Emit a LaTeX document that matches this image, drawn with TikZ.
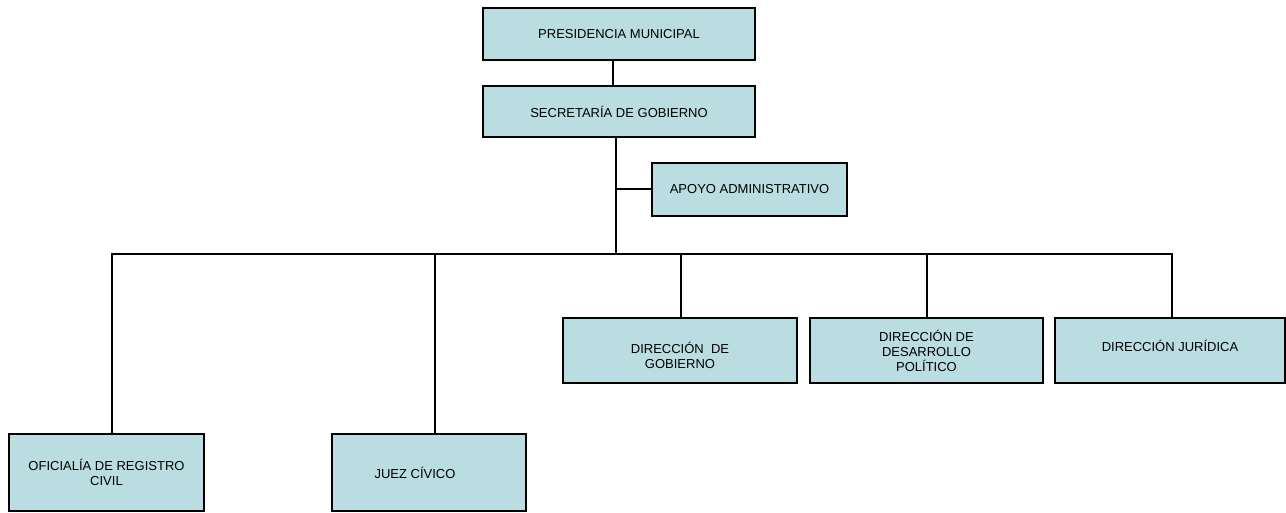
\documentclass[tikz,border=0pt]{standalone}
\usepackage{fontspec}
\setmainfont{Liberation Sans}
\definecolor{cajaazul}{RGB}{185,221,225}
\begin{document}
\begin{tikzpicture}[x=1pt,y=-1pt,
    caja/.style={draw=black, line width=1.3pt, fill=cajaazul, align=center,
      inner sep=2pt, font=\fontsize{13}{15}\selectfont},
    linea/.style={draw=black, line width=1.1pt}]
      \useasboundingbox (0,0) rectangle (1286,512);
      \node[caja, minimum width=272, minimum height=52] (pres) at (619,34) {PRESIDENCIA MUNICIPAL};
      \node[caja, minimum width=272, minimum height=51] (secr) at (619,111.5) {SECRETARÍA DE GOBIERNO};
      \node[caja, minimum width=195, minimum height=53] (apoyo) at (749.5,189.5) {APOYO ADMINISTRATIVO};
      \node[caja, minimum width=234, minimum height=65] (dirgob) at (680,350.5) {\rule{0pt}{22pt}DIRECCIÓN\ \ DE\\GOBIERNO};
      \node[caja, minimum width=233, minimum height=65] (desarr) at (926.5,350.5) {DIRECCIÓN DE\\DESARROLLO\\POLÍTICO};
      \node[caja, minimum width=230, minimum height=65] (jurid) at (1170,350.5) {DIRECCIÓN JURÍDICA\rule[-9pt]{0pt}{9pt}};
      \node[caja, minimum width=195, minimum height=77] (ofic) at (106.5,472.5) {OFICIALÍA DE REGISTRO\\CIVIL};
      \node[caja, minimum width=194, minimum height=77] (juez) at (429,472.5) {JUEZ CÍVICO\hspace{28pt}};
      % tronco y barra
      \coordinate (tronco) at (616,254);
      \coordinate (rama) at (616,189);
      \draw[linea] ([xshift=-6]pres.south) -- ([xshift=-6]secr.north);
      \draw[linea] ([xshift=-3]secr.south) -- (tronco);
      \draw[linea] (rama) -- (apoyo.west |- rama);
      \draw[linea] ([xshift=5.5]ofic.north) |- (tronco) -| ([xshift=2]jurid.north);
      \draw[linea] ([xshift=6]juez.north) -- ([xshift=6]juez.north |- tronco);
      \draw[linea] ([xshift=1]dirgob.north) -- ([xshift=1]dirgob.north |- tronco);
      \draw[linea] ([xshift=0.5]desarr.north) -- ([xshift=0.5]desarr.north |- tronco);
    \end{tikzpicture}
\end{document}
